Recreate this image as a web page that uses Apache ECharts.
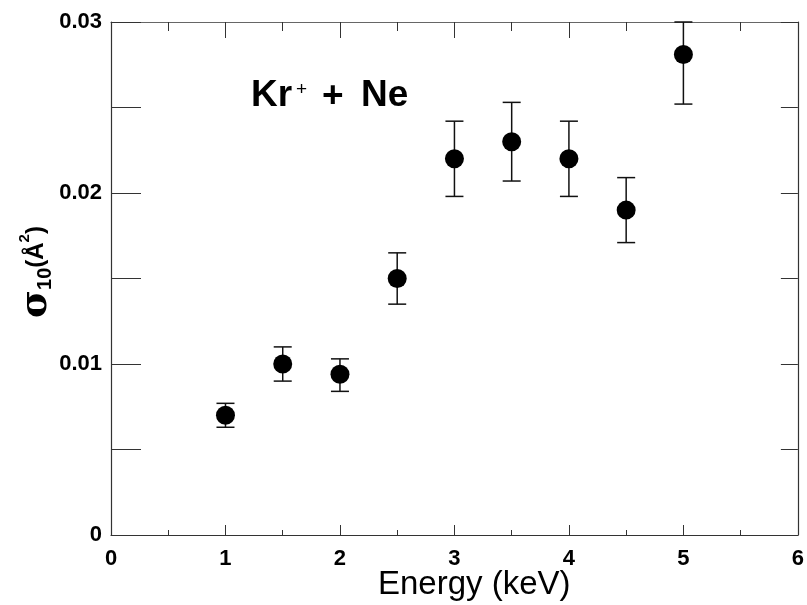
<!DOCTYPE html>
<html>
<head>
<meta charset="utf-8">
<script src="https://cdn.jsdelivr.net/npm/echarts@6/dist/echarts.min.js"></script>
<style>
html,body{margin:0;padding:0;background:#fff;}
#chart{width:807px;height:605px;}
</style>
</head>
<body>
<div id="chart"></div>
<script>
// Data
const energy   = [1, 1.5, 2, 2.5, 3, 3.5, 4, 4.5, 5];
const sigma    = [0.0070, 0.0100, 0.0094, 0.0150, 0.0220, 0.0230, 0.0220, 0.0190, 0.0281];
const errLow   = [0.0063, 0.0090, 0.0084, 0.0135, 0.0198, 0.0207, 0.0198, 0.0171, 0.0252];
const errHigh  = [0.0077, 0.0110, 0.0103, 0.0165, 0.0242, 0.0253, 0.0242, 0.0209, 0.0300];
const xTickLabels = ['0', '1', '2', '3', '4', '5', '6'];
const yTickLabels = ['0', '0.01', '0.02', '0.03'];

const chart = echarts.init(document.getElementById('chart'), null, {renderer: 'canvas'});
const FONT = '"Liberation Sans", Arial, Helvetica, sans-serif';
const lineColor = '#333';

const pointData = energy.map((e, i) => [e, sigma[i]]);
const errData = energy.map((e, i) => [e, errLow[i], errHigh[i]]);

function yLabel(v) {
  const k = Math.round(v / 0.01 * 1000) / 1000;
  if (Math.abs(k - Math.round(k)) > 1e-6) return '';
  return yTickLabels[Math.round(k)] || '';
}
function xLabel(v) {
  const k = Math.round(v);
  return xTickLabels[k] || '';
}

const titleStyle = {fontFamily: FONT, fontWeight: 'bold', fontSize: 37, fill: '#000', verticalAlign: 'middle', align: 'left'};

const option = {
  backgroundColor: '#fff',
  animation: false,
  grid: {left: 111, right: 2, top: 22, bottom: 70},
  xAxis: [
    {
      type: 'value', position: 'bottom', min: 0, max: 6, interval: 1,
      axisLine: {show: true, onZero: false, lineStyle: {color: lineColor, width: 1.2}},
      axisTick: {show: true, inside: true, length: 10, lineStyle: {color: lineColor}},
      minorTick: {show: true, splitNumber: 2, length: 5, lineStyle: {color: lineColor}},
      splitLine: {show: false},
      axisLabel: {show: true, margin: 13, color: '#000', fontFamily: FONT, fontWeight: 'bold', fontSize: 22, formatter: xLabel}
    },
    {
      type: 'value', position: 'top', min: 0, max: 6, interval: 1,
      axisLine: {show: true, onZero: false, lineStyle: {color: '#666', width: 1.2}},
      axisTick: {show: true, inside: true, length: 16, lineStyle: {color: lineColor}},
      minorTick: {show: true, splitNumber: 2, length: 9, lineStyle: {color: lineColor}},
      splitLine: {show: false},
      axisLabel: {show: false}
    }
  ],
  yAxis: [
    {
      type: 'value', position: 'left', min: 0, max: 0.03, interval: 0.005,
      axisLine: {show: true, onZero: false, lineStyle: {color: lineColor, width: 1.2}},
      axisTick: {show: true, inside: true, length: 30, lineStyle: {color: lineColor}},
      splitLine: {show: false},
      axisLabel: {show: true, margin: 9, color: '#000', fontFamily: FONT, fontWeight: 'bold', fontSize: 22, formatter: yLabel}
    },
    {
      type: 'value', position: 'right', min: 0, max: 0.03, interval: 0.005,
      axisLine: {show: true, onZero: false, lineStyle: {color: lineColor, width: 1.2}},
      axisTick: {show: true, inside: true, length: 17, lineStyle: {color: lineColor}},
      splitLine: {show: false},
      axisLabel: {show: false}
    }
  ],
  series: [
    {
      type: 'custom',
      xAxisIndex: 0, yAxisIndex: 0,
      data: errData,
      z: 2,
      renderItem: function (params, api) {
        const x = api.value(0);
        const lo = api.coord([x, api.value(1)]);
        const hi = api.coord([x, api.value(2)]);
        const hw = 9;
        const style = {stroke: '#111', lineWidth: 1.5};
        return {
          type: 'group',
          children: [
            {type: 'line', shape: {x1: lo[0], y1: lo[1], x2: hi[0], y2: hi[1]}, style: style},
            {type: 'line', shape: {x1: lo[0] - hw, y1: lo[1], x2: lo[0] + hw, y2: lo[1]}, style: style},
            {type: 'line', shape: {x1: hi[0] - hw, y1: hi[1], x2: hi[0] + hw, y2: hi[1]}, style: style}
          ]
        };
      }
    },
    {
      type: 'scatter',
      xAxisIndex: 0, yAxisIndex: 0,
      data: pointData,
      symbol: 'circle',
      symbolSize: 19,
      itemStyle: {color: '#000', opacity: 1},
      z: 3
    }
  ],
  graphic: [
    {type: 'text', x: 251, y: 96, z: 10, style: Object.assign({text: 'Kr'}, titleStyle)},
    {type: 'text', x: 296, y: 90, z: 10, style: {text: '+', fontFamily: FONT, fontSize: 19, fill: '#000', verticalAlign: 'middle', align: 'left'}},
    {type: 'text', x: 322, y: 97, z: 10, style: Object.assign({text: '+'}, titleStyle)},
    {type: 'text', x: 361, y: 96, z: 10, style: Object.assign({text: 'Ne'}, titleStyle)},
    {
      type: 'text', left: 378, top: 568, z: 10,
      style: {text: 'Energy (keV)', fontFamily: FONT, fontSize: 33, fill: '#000'}
    },
    {
      type: 'text', x: 17, y: 318, rotation: Math.PI / 2, z: 10,
      style: {
        text: '{s|σ}{b|10}{p|(Å}{u|2}{p|)}',
        verticalAlign: 'top',
        rich: {
          s: {fontFamily: '"DejaVu Serif", serif', fontWeight: 'bold', fontSize: 38, fill: '#000', verticalAlign: 'bottom'},
          b: {fontFamily: FONT, fontWeight: 'bold', fontSize: 20, fill: '#000', verticalAlign: 'bottom'},
          p: {fontFamily: FONT, fontWeight: 'bold', fontSize: 24, fill: '#000', verticalAlign: 'middle'},
          u: {fontFamily: FONT, fontWeight: 'bold', fontSize: 15, fill: '#000', verticalAlign: 'top'}
        }
      }
    }
  ]
};
chart.setOption(option);
</script>
</body>
</html>
